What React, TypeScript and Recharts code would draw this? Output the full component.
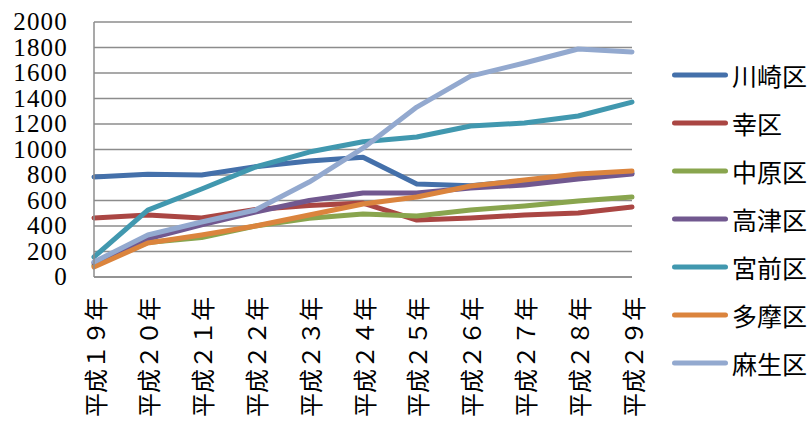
import React from "react";
import { LineChart, Line, XAxis, YAxis, CartesianGrid, Legend } from "recharts";

// 平成19年〜平成29年
const years = [
  "平成１９年",
  "平成２０年",
  "平成２１年",
  "平成２２年",
  "平成２３年",
  "平成２４年",
  "平成２５年",
  "平成２６年",
  "平成２７年",
  "平成２８年",
  "平成２９年",
];

const kawasaki = [785, 805, 800, 865, 910, 940, 730, 715, 755, 780, 815];
const saiwai = [463, 486, 463, 530, 560, 580, 447, 463, 486, 502, 549];
const nakahara = [90, 270, 310, 400, 460, 494, 478, 525, 557, 596, 627];
const takatsu = [110, 300, 410, 510, 600, 659, 659, 698, 722, 769, 808];
const miyamae = [157, 525, 690, 863, 980, 1061, 1098, 1184, 1208, 1263, 1372];
const tama = [78, 267, 329, 400, 486, 572, 627, 714, 760, 808, 831];
const asao = [118, 329, 431, 525, 745, 1010, 1333, 1576, 1678, 1788, 1765];

const yTicks = [0, 200, 400, 600, 800, 1000, 1200, 1400, 1600, 1800, 2000];

const series = [
  { name: "川崎区", values: kawasaki, color: "#4470AA" },
  { name: "幸区", values: saiwai, color: "#AA4643" },
  { name: "中原区", values: nakahara, color: "#89A54E" },
  { name: "高津区", values: takatsu, color: "#71588F" },
  { name: "宮前区", values: miyamae, color: "#4198AF" },
  { name: "多摩区", values: tama, color: "#DB843D" },
  { name: "麻生区", values: asao, color: "#93A9CF" },
];

const data = years.map((year, i) => {
  const row: Record<string, string | number> = { year };
  series.forEach((s) => {
    row[s.name] = s.values[i];
  });
  return row;
});

const CJK = '"Noto Sans CJK JP", "Noto Sans", sans-serif';
const GRID = "#8c8c8c";

const YearTick = ({ x, y, payload }: any) => (
  <text
    x={x}
    y={y}
    transform={`rotate(-90 ${x} ${y})`}
    textAnchor="end"
    dominantBaseline="central"
    fontSize={24}
    fontFamily={CJK}
    fill="#000"
  >
    {payload.value}
  </text>
);

const ValueTick = ({ x, y, payload }: any) => (
  <text
    x={x}
    y={y}
    textAnchor="end"
    dy={8}
    fontSize={25}
    fontFamily="Liberation Serif"
    letterSpacing={1.2}
    fill="#000"
  >
    {payload.value}
  </text>
);

// legend keeps the series order (recharts would sort it otherwise)
const LegendList = () => (
  <div>
    {series.map((s) => (
      <div key={s.name} style={{ display: "flex", alignItems: "center", height: 48 }}>
        <svg width={58} height={10} style={{ flexShrink: 0 }}>
          <line x1={4.5} y1={5} x2={55.5} y2={5} stroke={s.color} strokeWidth={5} strokeLinecap="round" />
        </svg>
        <span style={{ marginLeft: 4, fontSize: 25, fontFamily: CJK, color: "#000", whiteSpace: "nowrap" }}>
          {s.name}
        </span>
      </div>
    ))}
  </div>
);

export default function App() {
  return (
    <div style={{ position: "absolute", left: 0, top: 0, width: 812, height: 427, background: "#fff", overflow: "hidden" }}>
      <LineChart width={812} height={427} data={data} margin={{ top: 22, right: 180, left: 0, bottom: 0 }}>
        <CartesianGrid vertical={false} stroke={GRID} strokeWidth={1.5} />
        <XAxis
          dataKey="year"
          interval={0}
          height={150}
          tickLine={false}
          tickSize={0}
          tickMargin={20}
          axisLine={{ stroke: GRID, strokeWidth: 1.5 }}
          tick={<YearTick />}
        />
        <YAxis
          domain={[0, 2000]}
          ticks={yTicks}
          interval={0}
          width={94}
          tickLine={false}
          tickSize={0}
          tickMargin={26}
          axisLine={{ stroke: GRID, strokeWidth: 1.5 }}
          tick={<ValueTick />}
        />
        <Legend
          layout="vertical"
          align="center"
          verticalAlign="middle"
          wrapperStyle={{ left: 670, top: 51, width: 142 }}
          content={<LegendList />}
        />
        {series.map((s) => (
          <Line
            key={s.name}
            type="linear"
            dataKey={s.name}
            stroke={s.color}
            strokeWidth={5}
            strokeLinecap="round"
            strokeLinejoin="round"
            dot={false}
            activeDot={false}
            isAnimationActive={false}
          />
        ))}
      </LineChart>
    </div>
  );
}
